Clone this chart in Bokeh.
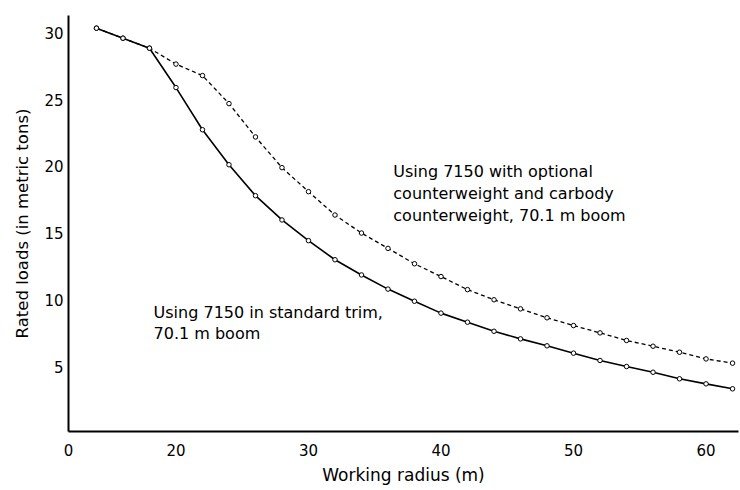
from bokeh.plotting import figure
from bokeh.models import FixedTicker, CustomJSTickFormatter, Range1d
from bokeh.core.properties import value
from bokeh.embed import file_html
from bokeh.resources import INLINE

radius = [14, 16, 18, 20, 22, 24, 26, 28, 30, 32, 34, 36, 38, 40, 42, 44, 46, 48, 50, 52, 54, 56, 58, 60, 62]
standard = [30.35, 29.6, 28.85, 25.9, 22.74, 20.12, 17.8, 15.98, 14.43, 13.0, 11.86, 10.8, 9.89, 9.0, 8.32,
            7.64, 7.07, 6.55, 6.0, 5.45, 5.0, 4.57, 4.08, 3.7, 3.33]
optional = [30.35, 29.6, 28.85, 27.66, 26.8, 24.7, 22.2, 19.9, 18.1, 16.35, 15.0, 13.85, 12.7, 11.74, 10.76,
            10.0, 9.32, 8.65, 8.07, 7.52, 6.95, 6.52, 6.07, 5.57, 5.25]

x_ticks = [11.89, 20, 30, 40, 50, 60]
y_ticks = [5, 10, 15, 20, 25, 30]

label_opt = ["Using 7150 with optional", "counterweight and carbody", "counterweight, 70.1 m boom"]
label_std = ["Using 7150 in standard trim,", "70.1 m boom"]

FONT = "DejaVu Sans"

p = figure(width=740, height=490, output_backend="svg", toolbar_location=None,
           x_range=Range1d(11.89, 62.45), y_range=Range1d(0.13, 31.3),
           min_border_left=68, min_border_right=2, min_border_top=15, min_border_bottom=59)
p.outline_line_color = None
p.grid.visible = False
p.background_fill_color = "white"
p.border_fill_color = "white"

for ax in (p.xaxis[0], p.yaxis[0]):
    ax.axis_line_width = 2
    ax.axis_line_color = "black"
    ax.major_tick_line_color = None
    ax.minor_tick_line_color = None
    ax.major_tick_out = 0
    ax.major_tick_in = 0
    ax.minor_tick_out = 0
    ax.minor_tick_in = 0
    ax.major_label_text_font = FONT
    ax.major_label_text_font_size = "15px"
    ax.major_label_text_color = "black"
    ax.axis_label_text_font = FONT
    ax.axis_label_text_font_style = "normal"
    ax.axis_label_text_color = "black"

p.xaxis.axis_label_text_font_size = "17px"
p.yaxis.axis_label_text_font_size = "16.5px"
p.xaxis.ticker = FixedTicker(ticks=x_ticks)
p.xaxis.formatter = CustomJSTickFormatter(code="return tick < 15 ? '0' : tick.toFixed(0);")
p.yaxis.ticker = FixedTicker(ticks=y_ticks)
p.xaxis.axis_label = "Working radius (m)"
p.yaxis.axis_label = "Rated loads (in metric tons)"
p.xaxis.major_label_standoff = 12
p.yaxis.major_label_standoff = 5
p.xaxis.axis_label_standoff = 6
p.yaxis.axis_label_standoff = 9

p.line(radius, optional, line_color="black", line_width=1.3, line_dash="4 3")
p.scatter(radius, optional, size=4.5, fill_color="white", line_color="black", line_width=1)
p.line(radius, standard, line_color="black", line_width=1.6)
p.scatter(radius, standard, size=4.5, fill_color="white", line_color="black", line_width=1)

p.text(x=[36.4] * 3, y=[19.6, 17.95, 16.3], text=label_opt, text_font=value(FONT),
       text_font_size="16px", text_baseline="middle", text_align="left", text_color="black")
p.text(x=[18.31] * 2, y=[9.04, 7.47], text=label_std, text_font=value(FONT),
       text_font_size="16px", text_baseline="middle", text_align="left", text_color="black")

open("out.html", "w").write(file_html(p, INLINE))
